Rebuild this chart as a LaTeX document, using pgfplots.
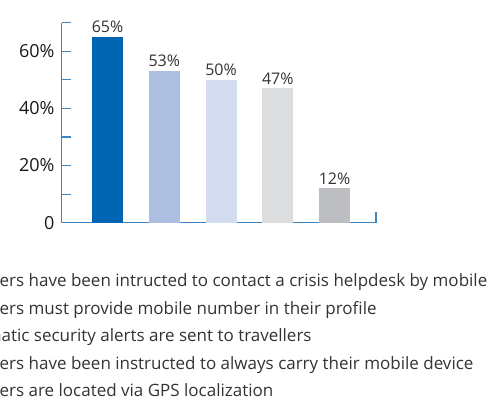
\documentclass[border=0pt]{standalone}
\usepackage{pgfplots}
\pgfplotsset{compat=1.18}
\usepackage{fontspec}
\setmainfont{Open Sans}

\definecolor{barA}{HTML}{0066B3}
\definecolor{barB}{HTML}{ADBFE0}
\definecolor{barC}{HTML}{D3DCEE}
\definecolor{barD}{HTML}{DCDDDF}
\definecolor{barE}{HTML}{BDBEC1}
\definecolor{axisblue}{HTML}{3D85C6}
\definecolor{txt}{HTML}{333333}

\begin{document}
\begin{tikzpicture}
\useasboundingbox (0bp,0bp) rectangle (500bp,407bp);
\clip (0bp,0bp) rectangle (500bp,407bp);
\begin{axis}[
    at={(61.7bp,184.3bp)}, anchor=south west,
    scale only axis, width=314.3bp, height=200bp,
    xmin=-0.807, xmax=4.73, ymin=0, ymax=70,
    clip=false,
    axis lines=left,
    axis line style={-, axisblue, line width=1.4bp},
    tick align=inside,
    major tick length=9bp, minor tick length=9bp,
    tick style={axisblue, line width=1.2bp},
    ytick={0,20,40,60}, yticklabels={0,20\%,40\%,60\%},
    minor ytick={10,30,50,70},
    xtick={4.73}, xticklabels={},
    xtick style={/pgfplots/major tick length=11bp},
    yticklabel style={font=\fontsize{18bp}{21bp}\selectfont, text=black!90, inner sep=0pt, xshift=-7bp},
    /pgf/number format/assume math mode=true,
    nodes near coords={\pgfmathprintnumber{\pgfplotspointmeta}\%},
    nodes near coords style={font=\fontsize{16bp}{19bp}\selectfont, text=txt, inner sep=4bp},
    area legend,
    legend cell align=left,
    legend style={at={(-0.4413,-0.259)}, anchor=north west, draw=none, fill=none,
        inner sep=0pt, outer sep=0pt, column sep=8bp, row sep=11.5bp,
        font=\fontsize{17bp}{20bp}\selectfont, text=txt,
        nodes={inner sep=0pt, text height=12bp, text depth=4bp}},
]
% one plot per bar so that each gets its own colour and legend entry
\addplot[ybar, bar width=31bp, bar shift=0pt, fill=barA, draw=none] coordinates {(0,65)};
\addplot[ybar, bar width=31bp, bar shift=0pt, fill=barB, draw=none] coordinates {(1,53)};
\addplot[ybar, bar width=31bp, bar shift=0pt, fill=barC, draw=none] coordinates {(2,50)};
\addplot[ybar, bar width=31bp, bar shift=0pt, fill=barD, draw=none] coordinates {(3,47)};
\addplot[ybar, bar width=31bp, bar shift=0pt, fill=barE, draw=none] coordinates {(4,12)};
\legend{Travellers have been intructed to contact a crisis helpdesk by mobile,
    Travellers must provide mobile number in their profile,
    Automatic security alerts are sent to travellers,
    Travellers have been instructed to always carry their mobile device,
    Travellers are located via GPS localization}
\end{axis}
\end{tikzpicture}
\end{document}
